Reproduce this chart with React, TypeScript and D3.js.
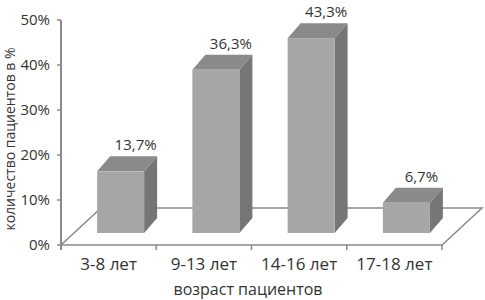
import React from "react";
import * as d3 from "d3";

const categories = ["3-8 лет", "9-13 лет", "14-16 лет", "17-18 лет"];
const values = [13.7, 36.3, 43.3, 6.7];
const valueLabels = ["13,7%", "36,3%", "43,3%", "6,7%"];
const yTicks = [0, 10, 20, 30, 40, 50];

const W = 485;
const H = 300;
const FONT = "'Open Sans', sans-serif";
const TEXT = "#333";
const AXIS = "#8a8a8a";

export default function App() {
  const x = d3.scaleBand<string>().domain(categories).range([61, 442]).paddingInner(0).paddingOuter(0);
  const y = d3.scaleLinear().domain([0, 50]).range([245, 20]);
  const floorD = [40, -37];
  const barOff = [12, -12];
  const barD = [13, -15];
  const barW = 47;

  const y0 = y(0);
  const floorPts = [
    [x.range()[0], y0],
    [x.range()[1], y0],
    [x.range()[1] + floorD[0], y0 + floorD[1]],
    [x.range()[0] + floorD[0], y0 + floorD[1]],
  ];
  const boundaries = [...categories.map((c) => x(c)!), x.range()[1]];

  return (
    <svg width={W} height={H} style={{ position: "absolute", left: 0, top: 0 }} fontFamily={FONT}>
      <rect width={W} height={H} fill="#fff" />
      {/* floor */}
      <polygon points={floorPts.map((p) => p.join(",")).join(" ")} fill="#fff" stroke={AXIS} strokeWidth={1.5} />
      {/* category ticks */}
      {boundaries.map((b, i) => (
        <line key={i} x1={b} x2={b} y1={y0} y2={y0 + 5} stroke={AXIS} strokeWidth={1.5} />
      ))}
      {/* y axis */}
      <line x1={61} x2={61} y1={y(50)} y2={y0 + 5} stroke={AXIS} strokeWidth={2} />
      {yTicks.map((t) => (
        <g key={t}>
          <line x1={57} x2={61} y1={y(t)} y2={y(t)} stroke={AXIS} strokeWidth={1.5} />
          <text x={50} y={y(t)} dy="0.36em" textAnchor="end" fontSize={15} fill={TEXT}>
            {t}%
          </text>
        </g>
      ))}
      {/* bars */}
      {categories.map((c, i) => {
        const cx = x(c)! + x.bandwidth() / 2 + barOff[0];
        const xl = cx - barW / 2;
        const xr = cx + barW / 2;
        const yb = y0 + barOff[1];
        const yt = yb - (y0 - y(values[i]));
        const [dx, dy] = barD;
        return (
          <g key={c}>
            <polygon
              points={`${xr},${yt} ${xr + dx},${yt + dy} ${xr + dx},${yb + dy} ${xr},${yb}`}
              fill="#767676"
            />
            <polygon
              points={`${xl},${yt} ${xl + dx},${yt + dy} ${xr + dx},${yt + dy} ${xr},${yt}`}
              fill="#8a8a8a"
            />
            <rect x={xl} y={yt} width={barW} height={yb - yt} fill="#a6a6a6" />
            <text x={cx + 15} y={yt + dy - 6} textAnchor="middle" fontSize={15} fill={TEXT}>
              {valueLabels[i]}
            </text>
            <text x={x(c)! + x.bandwidth() / 2} y={270} textAnchor="middle" fontSize={17} fill={TEXT}>
              {c}
            </text>
          </g>
        );
      })}
      <text x={248} y={295} textAnchor="middle" fontSize={16} fill={TEXT}>
        возраст пациентов
      </text>
      <text
        transform={`translate(15,139) rotate(-90)`}
        textAnchor="middle"
        fontSize={14}
        fill={TEXT}
      >
        количество пациентов в %
      </text>
    </svg>
  );
}
